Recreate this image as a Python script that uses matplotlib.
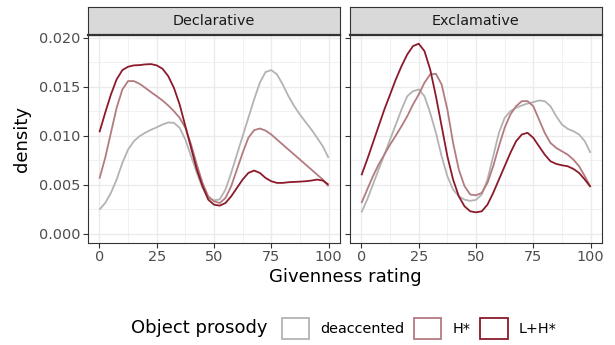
import matplotlib
matplotlib.use("Agg")
import matplotlib.pyplot as plt
from matplotlib.patches import Patch
from matplotlib.ticker import MultipleLocator, FixedLocator

plt.rcParams['font.family'] = ['DejaVu Sans']

# ---------------- data ----------------
rating = [0, 2.5, 5, 7.5, 10, 12.5, 15, 17.5, 20, 22.5, 25, 27.5, 30, 32.5, 35, 37.5,
          40, 42.5, 45, 47.5, 50, 52.5, 55, 57.5, 60, 62.5, 65, 67.5, 70, 72.5, 75,
          77.5, 80, 82.5, 85, 87.5, 90, 92.5, 95, 97.5, 100]

facets = ["Declarative", "Exclamative"]
prosody = ["deaccented", "H*", "L+H*"]

decl_deaccented = [0.00245, 0.00313, 0.00416, 0.00552, 0.00722, 0.00858, 0.00943, 0.00995,
                   0.01030, 0.01060, 0.01085, 0.01114, 0.01134, 0.01131, 0.01080, 0.00960,
                   0.00790, 0.00620, 0.00467, 0.00364, 0.00340,
                   0.00350, 0.00450, 0.00620, 0.00807, 0.00995, 0.01182, 0.01369, 0.01540,
                   0.01649, 0.01669, 0.01625, 0.01522, 0.01403, 0.01301, 0.01216, 0.01138,
                   0.01063, 0.00978, 0.00892, 0.00773]
decl_h = [0.00562, 0.00773, 0.01029, 0.01284, 0.01471, 0.01557, 0.01557, 0.01529, 0.01488,
          0.01444, 0.01403, 0.01359, 0.01308, 0.01250, 0.01182, 0.01080, 0.00909, 0.00705,
          0.00518, 0.00381, 0.00330,
          0.00313, 0.00364, 0.00484, 0.00654, 0.00824, 0.00978, 0.01056, 0.01073, 0.01052,
          0.01012, 0.00960, 0.00909, 0.00858, 0.00807, 0.00756, 0.00705, 0.00654, 0.00603,
          0.00552, 0.00484]
decl_lh = [0.01035, 0.01233, 0.01420, 0.01574, 0.01669, 0.01703, 0.01717, 0.01720, 0.01727,
           0.01730, 0.01717, 0.01683, 0.01608, 0.01488, 0.01318, 0.01097, 0.00875, 0.00654,
           0.00484, 0.00347, 0.00296,
           0.00286, 0.00313, 0.00381, 0.00467, 0.00552, 0.00620, 0.00644, 0.00620, 0.00569,
           0.00535, 0.00518, 0.00518, 0.00525, 0.00528, 0.00531, 0.00535, 0.00542, 0.00552,
           0.00542, 0.00500]

excl_deaccented = [0.00218, 0.00347, 0.00501, 0.00654, 0.00807, 0.00960, 0.01114, 0.01267,
                   0.01403, 0.01454, 0.01471, 0.01403, 0.01233, 0.01029, 0.00790, 0.00586,
                   0.00450, 0.00381, 0.00347, 0.00335, 0.00345,
                   0.00399, 0.00552, 0.00790, 0.01029, 0.01182, 0.01250, 0.01284, 0.01308,
                   0.01328, 0.01342, 0.01359, 0.01352, 0.01301, 0.01199, 0.01114, 0.01070,
                   0.01046, 0.01012, 0.00943, 0.00824]
excl_h = [0.00313, 0.00450, 0.00586, 0.00705, 0.00807, 0.00909, 0.01001, 0.01097, 0.01199,
          0.01318, 0.01420, 0.01540, 0.01625, 0.01631, 0.01522, 0.01267, 0.00926, 0.00654,
          0.00484, 0.00399, 0.00392,
          0.00416, 0.00518, 0.00688, 0.00892, 0.01080, 0.01216, 0.01301, 0.01352, 0.01352,
          0.01301, 0.01165, 0.01029, 0.00926, 0.00875, 0.00841, 0.00807, 0.00756, 0.00688,
          0.00586, 0.00477]
excl_lh = [0.00596, 0.00756, 0.00926, 0.01097, 0.01267, 0.01420, 0.01574, 0.01710, 0.01829,
           0.01914, 0.01938, 0.01863, 0.01676, 0.01403, 0.01097, 0.00790, 0.00552, 0.00381,
           0.00279, 0.00228, 0.00218,
           0.00228, 0.00296, 0.00416, 0.00552, 0.00688, 0.00824, 0.00943, 0.01012, 0.01029,
           0.00978, 0.00892, 0.00807, 0.00739, 0.00712, 0.00698, 0.00688, 0.00661, 0.00620,
           0.00552, 0.00477]

x_ticks = [0, 25, 50, 75, 100]
y_ticks = [0.000, 0.005, 0.010, 0.015, 0.020]
y_tick_labels = ["0.000", "0.005", "0.010", "0.015", "0.020"]

series = {
    "Declarative": [decl_deaccented, decl_h, decl_lh],
    "Exclamative": [excl_deaccented, excl_h, excl_lh],
}

# ---------------- style ----------------
colors = ["#b3b3b3", "#b27b80", "#8c1a2a"]
W, H = 615, 345
fig = plt.figure(figsize=(W / 100, H / 100), dpi=100)

panel_top, panel_bot = 34.7, 242.7
strip_top = 7.3
lefts = [88, 350]
pw = 252

SMALL = 10.4
TITLE = 13
border_col = "#333333"
grid_col = "#ebebeb"

for i, facet in enumerate(facets):
    L = lefts[i]
    ax = fig.add_axes([L / W, 1 - panel_bot / H, pw / W, (panel_bot - panel_top) / H])
    ax.set_facecolor("white")
    ax.set_xlim(-5, 105)
    ax.set_ylim(-0.00092, 0.0203)
    ax.xaxis.set_major_locator(FixedLocator(x_ticks))
    ax.xaxis.set_minor_locator(MultipleLocator(12.5))
    ax.yaxis.set_major_locator(FixedLocator(y_ticks))
    ax.yaxis.set_minor_locator(MultipleLocator(0.0025))
    ax.grid(which="major", color=grid_col, linewidth=1.0)
    ax.grid(which="minor", color=grid_col, linewidth=0.5)
    ax.set_axisbelow(True)
    for sp in ax.spines.values():
        sp.set_color(border_col)
        sp.set_linewidth(0.8)
    ax.tick_params(which="minor", length=0)
    ax.tick_params(which="major", length=3.5, width=0.8, color=border_col,
                   labelsize=SMALL, labelcolor="#4d4d4d", pad=2)
    ax.set_xticklabels([str(t) for t in x_ticks])
    if i == 0:
        ax.set_yticklabels(y_tick_labels)
    else:
        ax.tick_params(axis="y", labelleft=False)

    for vals, c in zip(series[facet], colors):
        ax.plot(rating, vals, color=c, linewidth=1.3, solid_capstyle="butt")

    # strip
    sax = fig.add_axes([L / W, 1 - panel_top / H, pw / W, (panel_top - strip_top) / H])
    sax.set_facecolor("#d9d9d9")
    sax.set_xticks([])
    sax.set_yticks([])
    for sp in sax.spines.values():
        sp.set_color(border_col)
        sp.set_linewidth(0.8)
    sax.spines["bottom"].set_linewidth(1.6)
    sax.text(0.5, 0.5, facet, ha="center", va="center", fontsize=SMALL,
             color="#1a1a1a", transform=sax.transAxes)

# axis titles
fig.text(345 / W, 1 - 277 / H, "Givenness rating", ha="center", va="center",
         fontsize=TITLE, color="black")
fig.text(22 / W, 1 - 138.7 / H, "density", ha="center", va="center",
         rotation=90, fontsize=TITLE, color="black")

# legend
fig.text(131 / W, 1 - 328 / H, "Object prosody", ha="left", va="center",
         fontsize=TITLE, color="black")
handles = [Patch(facecolor="white", edgecolor=c, linewidth=1.3) for c in colors]
leg = fig.legend(handles, prosody, loc="center left",
                 bbox_to_anchor=(281.5 / W, 1 - 328.5 / H), ncol=3, frameon=False,
                 fontsize=SMALL, handlelength=1.9, handleheight=1.9,
                 handletextpad=0.75, columnspacing=0.7, borderpad=0.0,
                 borderaxespad=0.0)
for t in leg.get_texts():
    t.set_color("black")

fig.savefig("out.png", dpi=100)
